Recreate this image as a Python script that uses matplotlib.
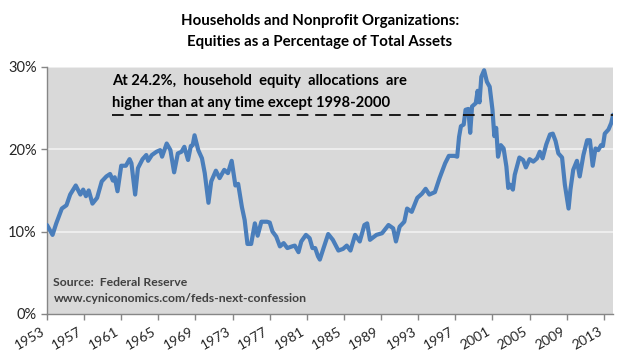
import matplotlib
matplotlib.use("Agg")
import matplotlib.pyplot as plt
import matplotlib.transforms as mtransforms

plt.rcParams['font.family'] = ['Lato', 'DejaVu Sans']

years = [1953.0, 1953.6, 1954.0, 1954.6, 1955.1, 1955.5, 1956.1, 1956.6, 1956.9, 1957.2,
         1957.5, 1957.9, 1958.4, 1958.9, 1959.4, 1959.8, 1960.1, 1960.3, 1960.6, 1961.0,
         1961.5, 1961.9, 1962.1, 1962.5, 1962.8, 1963.3, 1963.7, 1963.9, 1964.3, 1964.8,
         1965.2, 1965.4, 1965.9, 1966.3, 1966.7, 1967.1, 1967.5, 1967.8, 1968.2, 1968.5,
         1968.7, 1968.9, 1969.3, 1969.7, 1970.0, 1970.4, 1970.7, 1971.2, 1971.6, 1972.1,
         1972.5, 1972.9, 1973.3, 1973.6, 1974.0, 1974.3, 1974.6, 1975.0, 1975.4, 1975.7,
         1976.1, 1976.7, 1977.0, 1977.3, 1977.7, 1978.1, 1978.5, 1978.9, 1979.4, 1979.7,
         1980.1, 1980.4, 1980.9, 1981.3, 1981.6, 1981.9, 1982.2, 1982.4, 1982.8, 1983.3,
         1983.8, 1984.4, 1984.9, 1985.3, 1985.7, 1986.2, 1986.7, 1987.2, 1987.5, 1987.8,
         1988.5, 1989.1, 1989.8, 1990.3, 1990.6, 1991.0, 1991.5, 1991.8, 1992.3, 1992.9,
         1993.4, 1993.8, 1994.2, 1994.8, 1995.3, 1995.9, 1996.3, 1996.9, 1997.2, 1997.4,
         1997.6, 1997.9, 1998.1, 1998.4, 1998.6, 1998.8, 1999.2, 1999.4, 1999.6, 1999.8,
         2000.1, 2000.4, 2000.7, 2001.0, 2001.2, 2001.4, 2001.6, 2001.9, 2002.2, 2002.5,
         2002.7, 2002.9, 2003.2, 2003.4, 2003.9, 2004.3, 2004.6, 2005.0, 2005.4, 2005.8,
         2006.1, 2006.4, 2006.8, 2007.2, 2007.5, 2007.8, 2008.1, 2008.5, 2008.8, 2009.2,
         2009.4, 2009.7, 2010.1, 2010.4, 2010.8, 2011.2, 2011.5, 2011.8, 2012.1, 2012.4,
         2012.7, 2012.9, 2013.1, 2013.5, 2013.8, 2014.0]

equity_pct = [10.8, 9.6, 11.0, 12.8, 13.2, 14.5, 15.6, 14.5, 15.1, 14.3,
              15.0, 13.4, 14.1, 16.1, 16.7, 17.0, 16.2, 16.6, 14.9, 18.0,
              18.0, 18.8, 18.3, 14.5, 17.7, 18.8, 19.3, 18.6, 19.3, 19.7,
              19.9, 19.1, 20.7, 19.9, 17.2, 19.5, 19.7, 20.3, 18.7, 20.4,
              20.5, 21.7, 19.9, 18.9, 17.1, 13.5, 16.1, 17.4, 16.5, 17.5,
              17.1, 18.6, 15.6, 15.8, 13.0, 11.4, 8.5, 8.5, 11.0, 9.5,
              11.2, 11.2, 11.1, 10.0, 9.4, 8.2, 8.6, 8.0, 8.2, 8.3,
              7.5, 8.8, 9.6, 9.2, 8.0, 8.0, 7.0, 6.6, 8.0, 9.7,
              9.0, 7.7, 7.9, 8.3, 7.7, 9.6, 8.8, 10.8, 11.0, 9.0,
              9.6, 9.8, 10.8, 10.4, 8.8, 10.6, 11.2, 12.8, 12.4, 14.1,
              14.6, 15.2, 14.5, 14.8, 16.5, 18.3, 19.2, 19.2, 19.1, 21.5,
              22.8, 23.0, 24.8, 24.9, 22.0, 25.2, 25.6, 27.1, 25.7, 28.8,
              29.6, 28.2, 27.6, 24.8, 21.6, 22.6, 19.1, 20.5, 20.1, 17.9,
              15.3, 15.7, 15.1, 16.9, 19.0, 18.7, 17.8, 18.8, 18.5, 18.9,
              19.7, 18.9, 20.6, 21.8, 21.9, 21.0, 19.5, 19.0, 15.7, 12.8,
              15.1, 17.5, 18.6, 16.7, 19.3, 21.1, 21.1, 18.0, 20.1, 19.9,
              20.5, 20.4, 21.9, 22.4, 23.2, 24.2]

current_level = 24.2
dash_start = 1960.0
x_ticks = list(range(1953, 2014, 4))
y_ticks = [0, 10, 20, 30]
y_tick_labels = ['0%', '10%', '20%', '30%']

fig = plt.figure(figsize=(6.4, 3.6), dpi=100)
ax = fig.add_axes([0.0734, 0.128, 0.8846, 0.686])
ax.set_facecolor('#D9D9D9')

for v in y_ticks[1:]:
    ax.axhline(v, color='#F2F2F2', lw=1.2, zorder=1)

ax.plot(years, equity_pct, color='#4A7EBB', lw=3.0, solid_joinstyle='round',
        solid_capstyle='round', zorder=3)
ax.plot([dash_start, years[-1]], [current_level, current_level], color='#1a1a1a',
        lw=1.4, dashes=(6, 3.5), zorder=4)

ax.set_xlim(1953, 2014)
ax.set_ylim(0, 30)
ax.set_xticks(x_ticks)
ax.set_xticklabels([str(y) for y in x_ticks], rotation=30, ha='right',
                   fontsize=10, color='#262626')
offset = mtransforms.ScaledTranslation(7 / 100, 0, fig.dpi_scale_trans)
for lbl in ax.get_xticklabels():
    lbl.set_transform(lbl.get_transform() + offset)
ax.set_yticks(y_ticks)
ax.set_yticklabels(y_tick_labels, fontsize=10.5, color='#262626')
ax.tick_params(axis='both', direction='out', length=4, color='#868686', width=1)
ax.tick_params(axis='x', pad=4)

for s in ['top', 'right']:
    ax.spines[s].set_visible(False)
for s in ['left', 'bottom']:
    ax.spines[s].set_color('#868686')
    ax.spines[s].set_linewidth(1)

fig.text(0.5, 0.96, 'Households and Nonprofit Organizations:\nEquities as a Percentage of Total Assets',
         ha='center', va='top', fontsize=10.8, fontweight='bold', linespacing=1.6,
         color='black')

ax.text(1960.0, 24.8, 'At 24.2%,  household  equity  allocations  are\nhigher than at any time except 1998-2000',
        fontsize=10.6, fontweight='bold', va='bottom', ha='left', linespacing=1.75,
        color='black', zorder=5)

ax.text(1953.7, 1.2, 'Source:  Federal Reserve\nwww.cyniconomics.com/feds-next-confession',
        fontsize=8.8, fontweight='bold', va='bottom', ha='left', linespacing=1.6,
        color='#404040', zorder=5)

fig.savefig('out.png', dpi=100, facecolor='white')
